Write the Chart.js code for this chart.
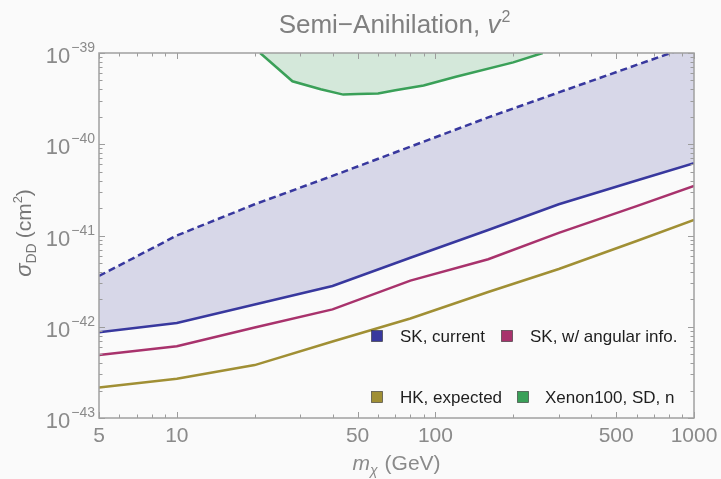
<!DOCTYPE html>
<html>
<head>
<meta charset="utf-8">
<script src="https://cdn.jsdelivr.net/npm/chart.js@4.4.0/dist/chart.umd.min.js"></script>
<style>
  body { margin: 0; background: #fafafa; }
  #wrap { width: 721px; height: 479px; }
</style>
</head>
<body>
<div id="wrap"><canvas id="chart" width="721" height="479"></canvas></div>
<script>
// dark matter mass (GeV)
const massGeV = [5, 10, 20, 40, 80, 160, 300, 600, 1000];
// cross section limits (cm^2)
const skCurrent = [8.7e-43, 1.1e-42, 1.75e-42, 2.8e-42, 5.7e-42, 1.15e-41, 2.2e-41, 4.0e-41, 6.2e-41];
const skUpper = [3.6e-42, 1.0e-41, 2.2e-41, 4.5e-41, 9.4e-41, 1.97e-40, 3.7e-40, 7.4e-40, 1.23e-39];
const skAngular = [4.9e-43, 6.1e-43, 9.8e-43, 1.55e-42, 3.2e-42, 5.5e-42, 1.07e-41, 2.1e-41, 3.5e-41];
const hkExpected = [2.16e-43, 2.7e-43, 3.8e-43, 6.9e-43, 1.23e-42, 2.4e-42, 4.3e-42, 8.7e-42, 1.48e-41];

// Xenon100 SD neutron limit
const xenonMass = [21, 28, 36, 44, 50, 60, 70, 90, 120, 200, 260];
const xenonLimit = [1e-39, 4.9e-40, 4.0e-40, 3.5e-40, 3.55e-40, 3.6e-40, 3.9e-40, 4.4e-40, 5.5e-40, 7.9e-40, 1e-39];

// tick labels
const xTickLabels = [5, 10, 50, 100, 500, 1000];
const yTickExponents = [-39, -40, -41, -42, -43];

const BLUE = 'rgb(56,56,158)';
const MAGENTA = 'rgb(168,50,108)';
const OLIVE = 'rgb(160,143,52)';
const GREEN = 'rgb(58,160,88)';
const GREY = '#8a8a8a';
const FONT = '"Liberation Sans", Arial, sans-serif';

function toPoints(xs, ys) {
    return xs.map((v, i) => ({ x: v, y: ys[i] }));
}

// draws a run of text pieces, returns total width
function drawRuns(ctx, runs, x, y, measureOnly) {
    let cx = x;
    runs.forEach(r => {
        ctx.font = r.font;
        if (!measureOnly) ctx.fillText(r.text, cx, y + (r.dy || 0));
        cx += ctx.measureText(r.text).width + (r.gap || 0);
    });
    return cx - x;
}

// frame, inward ticks, labels, title and legend
const decorations = {
    id: 'decorations',
    afterDatasetsDraw(chart) {
        const { ctx, chartArea: a, scales: { x, y } } = chart;
        ctx.save();

        // x ticks (top and bottom, pointing inward)
        ctx.strokeStyle = '#9c9c9c';
        ctx.lineWidth = 1;
        for (let dec = 1; dec <= 1000; dec *= 10) {
            for (let m = 1; m <= 9; m++) {
                const v = m * dec;
                if (v < 5 || v > 1000) continue;
                const px = Math.round(x.getPixelForValue(v)) + 0.5;
                const len = xTickLabels.includes(v) ? 6 : 3.5;
                ctx.beginPath();
                ctx.moveTo(px, a.bottom); ctx.lineTo(px, a.bottom - len);
                ctx.moveTo(px, a.top); ctx.lineTo(px, a.top + len);
                ctx.stroke();
            }
        }
        // y ticks (left and right)
        for (let e = -43; e <= -39; e++) {
            for (let m = 1; m <= 9; m++) {
                const v = m * Math.pow(10, e);
                if (v > 1.0001e-39) continue;
                const py = Math.round(y.getPixelForValue(v)) + 0.5;
                const len = m === 1 ? 6 : 3.5;
                ctx.beginPath();
                ctx.moveTo(a.left, py); ctx.lineTo(a.left + len, py);
                ctx.moveTo(a.right, py); ctx.lineTo(a.right - len, py);
                ctx.stroke();
            }
        }
        // frame
        ctx.lineWidth = 1.5;
        ctx.strokeStyle = '#a0a0a0';
        ctx.strokeRect(a.left, a.top, a.right - a.left, a.bottom - a.top);

        // x tick labels
        ctx.fillStyle = GREY;
        ctx.font = '21px ' + FONT;
        ctx.textAlign = 'center';
        ctx.textBaseline = 'alphabetic';
        xTickLabels.forEach(v => {
            ctx.fillText(String(v), x.getPixelForValue(v), a.bottom + 24);
        });

        // y tick labels 10^e
        ctx.textAlign = 'left';
        yTickExponents.forEach(e => {
            const py = y.getPixelForValue(Math.pow(10, e));
            const runs = [
                { text: '10', font: '22px ' + FONT, dy: 10, gap: 1 },
                { text: '\u2212' + Math.abs(e), font: '14px ' + FONT, dy: -1 }
            ];
            const w = drawRuns(ctx, runs, 0, 0, true);
            drawRuns(ctx, runs, a.left - 4 - w, py, false);
        });

        // title
        const titleRuns = [
            { text: 'Semi\u2212Anihilation, ', font: '26px ' + FONT },
            { text: 'v', font: 'italic 26px ' + FONT, gap: 1 },
            { text: '2', font: '16px ' + FONT, dy: -11 }
        ];
        const tw = drawRuns(ctx, titleRuns, 0, 0, true);
        ctx.fillStyle = '#808080';
        drawRuns(ctx, titleRuns, (a.left + a.right) / 2 - tw / 2 - 2, 33, false);

        // x axis label
        const xlRuns = [
            { text: 'm', font: 'italic 21px ' + FONT },
            { text: '\u03c7', font: 'italic 14px ' + FONT, dy: 5, gap: 7 },
            { text: '(GeV)', font: '21px ' + FONT }
        ];
        const xw = drawRuns(ctx, xlRuns, 0, 0, true);
        ctx.fillStyle = GREY;
        drawRuns(ctx, xlRuns, (a.left + a.right) / 2 - xw / 2, 470, false);

        // y axis label (rotated)
        const ylRuns = [
            { text: '\u03c3', font: 'italic 22px ' + FONT },
            { text: 'DD', font: '14px ' + FONT, dy: 5, gap: 5 },
            { text: '(cm', font: '21px ' + FONT },
            { text: '2', font: '13px ' + FONT, dy: -9 },
            { text: ')', font: '21px ' + FONT }
        ];
        const yw = drawRuns(ctx, ylRuns, 0, 0, true);
        ctx.save();
        ctx.translate(31, 233);
        ctx.rotate(-Math.PI / 2);
        ctx.fillStyle = '#777';
        drawRuns(ctx, ylRuns, -yw / 2, 0, false);
        ctx.restore();

        // legend
        const legendItems = [
            { label: 'SK, current', color: BLUE, sx: 377, tx: 400, cy: 336 },
            { label: 'SK, w/ angular info.', color: MAGENTA, sx: 507, tx: 530, cy: 336 },
            { label: 'HK, expected', color: OLIVE, sx: 377, tx: 400, cy: 397 },
            { label: 'Xenon100, SD, n', color: GREEN, sx: 523, tx: 545, cy: 397 }
        ];
        ctx.font = '17px ' + FONT;
        ctx.textBaseline = 'middle';
        ctx.textAlign = 'left';
        legendItems.forEach(it => {
            ctx.fillStyle = it.color;
            ctx.fillRect(it.sx - 5.5, it.cy - 5.5, 11, 11);
            ctx.strokeStyle = 'rgba(40,40,40,0.7)';
            ctx.lineWidth = 0.8;
            ctx.strokeRect(it.sx - 5.5, it.cy - 5.5, 11, 11);
            ctx.fillStyle = '#1e1e1e';
            ctx.fillText(it.label, it.tx, it.cy + 1);
        });

        ctx.restore();
    }
};

const ctx = document.getElementById('chart').getContext('2d');
new Chart(ctx, {
    type: 'line',
    data: {
        datasets: [
            {
                label: 'SK, current',
                data: toPoints(massGeV, skCurrent),
                borderColor: BLUE,
                borderWidth: 2.5,
                fill: false
            },
            {
                label: 'SK, w/ angular info.',
                data: toPoints(massGeV, skAngular),
                borderColor: MAGENTA,
                borderWidth: 2.5,
                fill: false
            },
            {
                label: 'HK, expected',
                data: toPoints(massGeV, hkExpected),
                borderColor: OLIVE,
                borderWidth: 2.5,
                fill: false
            },
            {
                label: 'SK, current (upper)',
                data: toPoints(massGeV, skUpper),
                borderColor: BLUE,
                borderWidth: 2.5,
                borderDash: [7, 4],
                backgroundColor: 'rgb(215,215,232)',
                fill: 0
            },
            {
                label: 'Xenon100, SD, n',
                data: toPoints(xenonMass, xenonLimit),
                borderColor: GREEN,
                borderWidth: 2.5,
                backgroundColor: 'rgb(212,232,218)',
                fill: 'end'
            }
        ]
    },
    options: {
        responsive: false,
        animation: false,
        layout: { padding: { left: 99, top: 53, right: 27, bottom: 61 } },
        elements: { point: { radius: 0, hoverRadius: 0 }, line: { tension: 0 } },
        scales: {
            x: { type: 'logarithmic', min: 5, max: 1000, display: false },
            y: { type: 'logarithmic', min: 1e-43, max: 1e-39, display: false }
        },
        plugins: {
            legend: { display: false },
            tooltip: { enabled: false }
        }
    },
    plugins: [decorations]
});
</script>
</body>
</html>
